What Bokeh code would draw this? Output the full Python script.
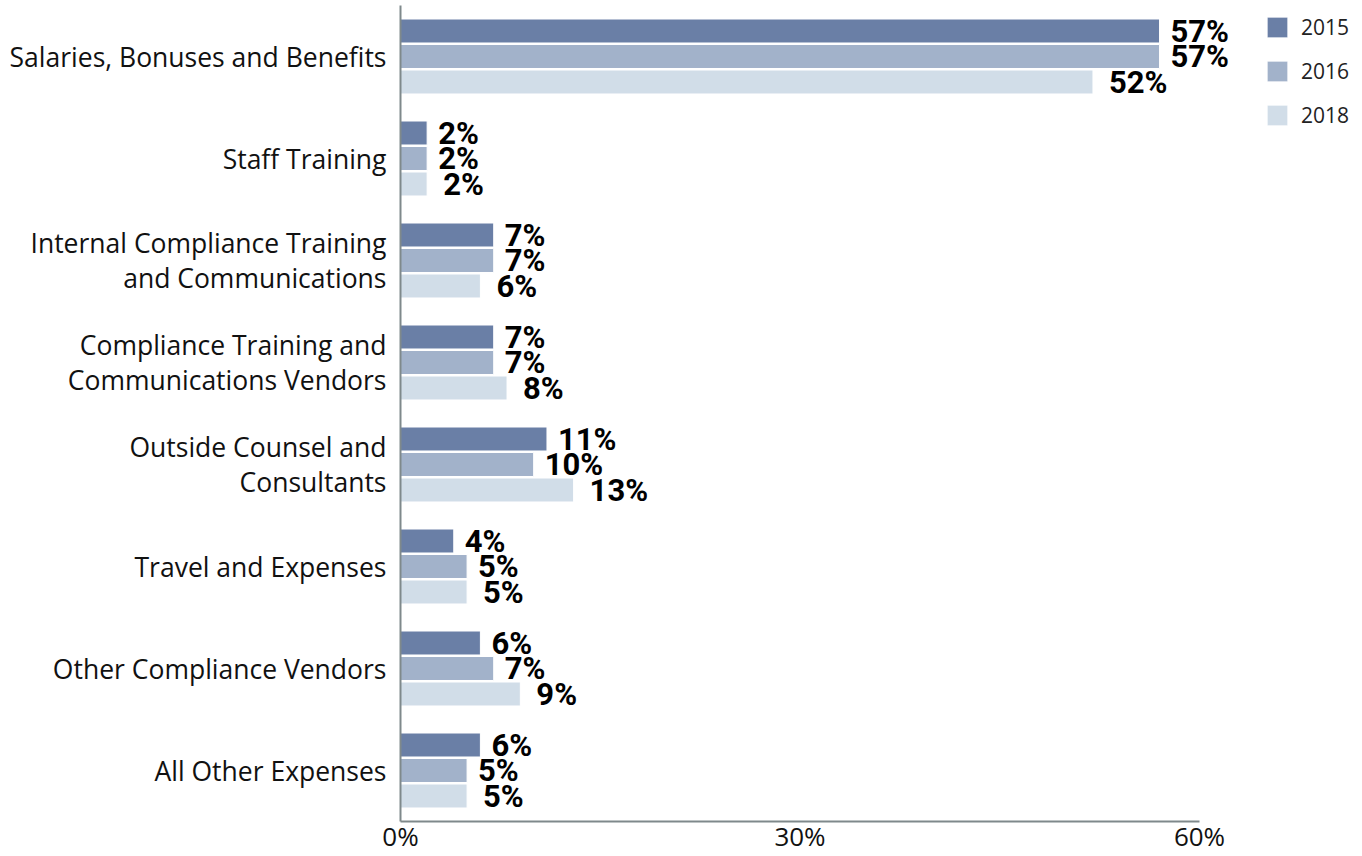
from bokeh.plotting import figure
from bokeh.models import ColumnDataSource, Range1d, FactorRange, FixedTicker, PrintfTickFormatter
from bokeh.transform import dodge
from bokeh.core.properties import value
from bokeh.embed import file_html
from bokeh.resources import INLINE

categories = [
    "Salaries, Bonuses and Benefits",
    "Staff Training",
    "Internal Compliance Training\nand Communications",
    "Compliance Training and\nCommunications Vendors",
    "Outside Counsel and\nConsultants",
    "Travel and Expenses",
    "Other Compliance Vendors",
    "All Other Expenses",
]
years = ["2015", "2016", "2018"]
v2015 = [57, 2, 7, 7, 11, 4, 6, 6]
v2016 = [57, 2, 7, 7, 10, 5, 7, 5]
v2018 = [52, 2, 6, 8, 13, 5, 9, 5]
x_ticks = [0, 30, 60]

colors = ["#6a7fa6", "#a2b2ca", "#d1dde8"]
offsets = [0.25, 0.0, -0.25]
label_offsets = [11, 11, 16]

data = dict(cat=categories, y2015=v2015, y2016=v2016, y2018=v2018)
for yr, vals in zip(years, [v2015, v2016, v2018]):
    data["l" + yr] = [f"{v}%" for v in vals]
source = ColumnDataSource(data)

W, H = 1362, 856
LEFT = 400
TOP = 5
frame_w = W - LEFT
px_per_unit = (1199 - 400) / 60.0
x_end = frame_w / px_per_unit

p = figure(
    width=W, height=H,
    y_range=FactorRange(factors=categories[::-1], range_padding=0),
    x_range=Range1d(0, x_end),
    output_backend="svg", toolbar_location=None,
    min_border_left=LEFT, min_border_right=0, min_border_top=TOP, min_border_bottom=0,
)
p.outline_line_color = None
p.xgrid.grid_line_color = None
p.ygrid.grid_line_color = None
p.background_fill_color = "white"
p.border_fill_color = "white"

for yr, col, off, loff in zip(years, colors, offsets, label_offsets):
    ydod = dodge("cat", off, range=p.y_range)
    p.hbar(y=ydod, left=0, right="y" + yr, height=0.235, source=source,
           fill_color=col, line_color="white", line_width=1, legend_label=yr)
    p.text(x="y" + yr, y=ydod, text="l" + yr, source=source, x_offset=loff,
           text_baseline="middle", text_align="left",
           text_font=value("Roboto"), text_font_style="bold",
           text_font_size="31px", text_color="#000000")

axis_col = "#7f898b"
for ax in (p.xaxis[0], p.yaxis[0]):
    ax.axis_line_color = axis_col
    ax.axis_line_width = 2
    ax.major_tick_line_color = None
    ax.minor_tick_line_color = None
    ax.major_tick_out = 0
    ax.major_tick_in = 0
    ax.minor_tick_out = 0
    ax.major_label_text_font = "Open Sans"
    ax.major_label_text_color = "#111111"

p.xaxis.ticker = FixedTicker(ticks=x_ticks)
p.xaxis.formatter = PrintfTickFormatter(format="%d%%")
p.xaxis.bounds = (0, 60)
p.xaxis.major_label_text_font_size = "26px"
p.xaxis.major_label_standoff = -4

p.yaxis.major_label_text_font_size = "26.5px"
p.yaxis.major_label_text_line_height = 0.95
p.yaxis.major_label_standoff = 14

lg = p.legend[0]
lg.location = (864, 692)
lg.glyph_width = 26
lg.glyph_height = 26
lg.spacing = 16
lg.padding = 0
lg.margin = 0
lg.label_standoff = 11
lg.label_text_font = "Open Sans"
lg.label_text_font_size = "21px"
lg.label_text_color = "#222222"
lg.border_line_color = None
lg.background_fill_alpha = 0

open("out.html", "w").write(file_html(p, INLINE))
